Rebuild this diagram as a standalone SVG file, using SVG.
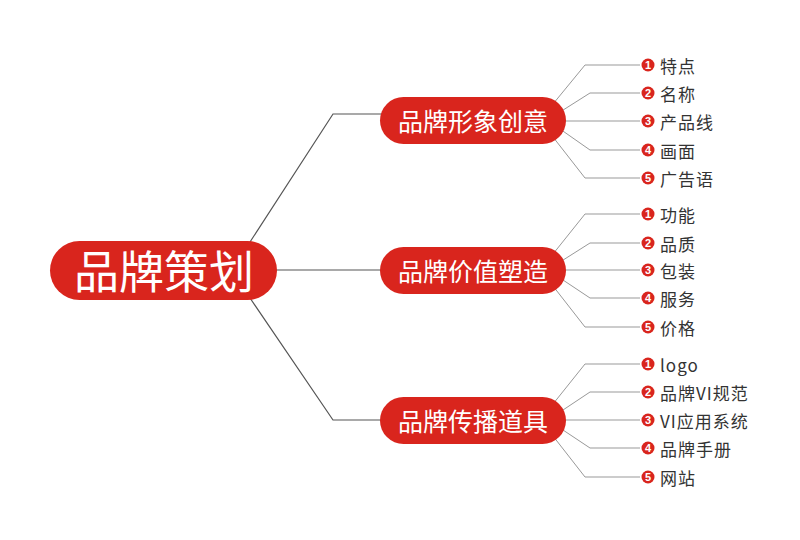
<svg xmlns="http://www.w3.org/2000/svg" width="800" height="540" viewBox="0 0 800 540">
<style>
.pill{fill:#d9251d}
.rt{fill:#fff;font-family:"Noto Sans CJK SC",sans-serif;font-size:45px;text-anchor:middle;dominant-baseline:central}
.bt{fill:#fff;font-family:"Noto Sans CJK SC",sans-serif;font-size:25px;text-anchor:middle;dominant-baseline:central}
.lt{fill:#333;font-family:"Noto Sans CJK SC",sans-serif;font-size:17px;letter-spacing:1px;dominant-baseline:central}
.nt{fill:#fff;font-family:"Liberation Sans",sans-serif;font-size:11px;font-weight:bold;text-anchor:middle;dominant-baseline:central}
.dot{fill:#d9251d}
.c1{fill:none;stroke:#555;stroke-width:1.2}
.c2{fill:none;stroke:#999;stroke-width:1}
</style>
<rect width="800" height="540" fill="#fff"/>
<g id="connectors">
<path class="c1" d="M250 242 L333 114 L385 114"/>
<path class="c1" d="M270 270 L385 270"/>
<path class="c1" d="M250 298 L333 420 L385 420"/>
<g id="leafconn">
<path class="c2" d="M553 104 L585 65 L640 65 M560 112 L590 93 L640 93 M560 121 L640 121 M560 129 L590 150 L640 150 M553 137 L585 178 L640 178"/>
<path class="c2" d="M553 254 L585 214 L640 214 M560 262 L590 243 L640 243 M560 270 L640 270 M560 278 L590 298 L640 298 M553 286 L585 327 L640 327"/>
<path class="c2" d="M553 404 L585 364 L640 364 M560 412 L590 392 L640 392 M560 420 L640 420 M560 428 L590 448 L640 448 M553 436 L585 477 L640 477"/>
</g>
</g>
<g id="root"><rect class="pill" x="50" y="241" width="227" height="59" rx="29.5"/><text class="rt" x="164" y="269">品牌策划</text></g>
<g id="b1"><rect class="pill" x="380" y="97" width="186" height="47" rx="23.5"/><text class="bt" x="473" y="120">品牌形象创意</text></g>
<g id="b2"><rect class="pill" x="380" y="247" width="186" height="47" rx="23.5"/><text class="bt" x="473" y="270">品牌价值塑造</text></g>
<g id="b3"><rect class="pill" x="380" y="397" width="186" height="47" rx="23.5"/><text class="bt" x="473" y="420">品牌传播道具</text></g>
<g id="leaves">
<g><circle class="dot" cx="648" cy="65" r="6.5"/><text class="nt" x="648" y="65">1</text><text class="lt" x="660" y="65">特点</text></g>
<g><circle class="dot" cx="648" cy="93" r="6.5"/><text class="nt" x="648" y="93">2</text><text class="lt" x="660" y="93">名称</text></g>
<g><circle class="dot" cx="648" cy="121" r="6.5"/><text class="nt" x="648" y="121">3</text><text class="lt" x="660" y="121">产品线</text></g>
<g><circle class="dot" cx="648" cy="150" r="6.5"/><text class="nt" x="648" y="150">4</text><text class="lt" x="660" y="150">画面</text></g>
<g><circle class="dot" cx="648" cy="178" r="6.5"/><text class="nt" x="648" y="178">5</text><text class="lt" x="660" y="178">广告语</text></g>
<g><circle class="dot" cx="648" cy="214" r="6.5"/><text class="nt" x="648" y="214">1</text><text class="lt" x="660" y="214">功能</text></g>
<g><circle class="dot" cx="648" cy="243" r="6.5"/><text class="nt" x="648" y="243">2</text><text class="lt" x="660" y="243">品质</text></g>
<g><circle class="dot" cx="648" cy="270" r="6.5"/><text class="nt" x="648" y="270">3</text><text class="lt" x="660" y="270">包装</text></g>
<g><circle class="dot" cx="648" cy="298" r="6.5"/><text class="nt" x="648" y="298">4</text><text class="lt" x="660" y="298">服务</text></g>
<g><circle class="dot" cx="648" cy="327" r="6.5"/><text class="nt" x="648" y="327">5</text><text class="lt" x="660" y="327">价格</text></g>
<g><circle class="dot" cx="648" cy="364" r="6.5"/><text class="nt" x="648" y="364">1</text><text class="lt" x="660" y="364">logo</text></g>
<g><circle class="dot" cx="648" cy="392" r="6.5"/><text class="nt" x="648" y="392">2</text><text class="lt" x="660" y="392">品牌VI规范</text></g>
<g><circle class="dot" cx="648" cy="420" r="6.5"/><text class="nt" x="648" y="420">3</text><text class="lt" x="660" y="420">VI应用系统</text></g>
<g><circle class="dot" cx="648" cy="448" r="6.5"/><text class="nt" x="648" y="448">4</text><text class="lt" x="660" y="448">品牌手册</text></g>
<g><circle class="dot" cx="648" cy="477" r="6.5"/><text class="nt" x="648" y="477">5</text><text class="lt" x="660" y="477">网站</text></g>
</g>
</svg>
